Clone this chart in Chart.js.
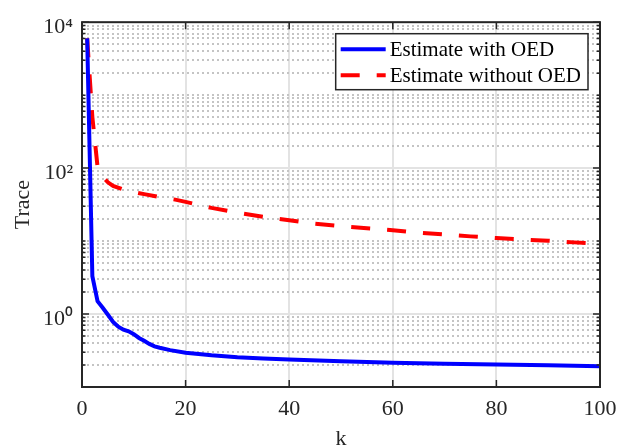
<!DOCTYPE html>
<html>
<head>
<meta charset="utf-8">
<script src="https://cdn.jsdelivr.net/npm/chart.js@4.4.0/dist/chart.umd.min.js"></script>
<style>
  html, body { margin: 0; padding: 0; background: #fff; }
  #wrap { width: 629px; height: 448px; }
</style>
</head>
<body>
<div id="wrap"><canvas id="traceChart" width="629" height="448"></canvas></div>
<script>
// values
const kWith = [1, 2, 3, 4, 5, 6, 7, 8, 9, 10, 11, 12, 13, 14, 15, 17, 20, 25, 30, 35, 40, 50, 60, 70, 80, 90, 100];
const traceWith = [6000, 3.3, 1.5, 1.22, 0.98, 0.78, 0.67, 0.61, 0.58, 0.53, 0.47, 0.43, 0.39, 0.36, 0.345, 0.32, 0.295, 0.272, 0.256, 0.246, 0.238, 0.225, 0.215, 0.208, 0.203, 0.198, 0.193];

const kWithout = [1, 2, 3, 4, 5, 6, 8, 10, 12, 15, 18, 20, 25, 30, 35, 40, 45, 50, 55, 60, 65, 70, 75, 80, 85, 90, 95, 100];
const traceWithout = [6000, 500, 105, 76, 64, 57, 51, 47, 44, 40, 37, 34.5, 28.5, 24.5, 21.5, 19.3, 17.3, 16.0, 15.0, 14.1, 13.0, 12.3, 11.6, 11.0, 10.5, 10.1, 9.6, 9.2];

const seriesLabels = ['Estimate with OED', 'Estimate without OED'];
const xTicks = [0, 20, 40, 60, 80, 100];
const yTickValues = [1, 100, 10000];
const yTickLabels = ['10\u2070', '10\u00B2', '10\u2074'];

const axisColor = '#262626';
const fontFamily = '"Liberation Serif", "Times New Roman", serif';

// log grid positions: 1..9 x each decade from 0.1 up to 1e4
const yGridValues = [];
for (let e = -1; e < 4; e++) {
  for (let m = 1; m < 10; m++) yGridValues.push(+(m * Math.pow(10, e)).toPrecision(3));
}
yGridValues.push(10000);
const isMajorY = v => yTickValues.includes(v);

// matlab style box with inward ticks on all four sides
const matlabAxes = {
  id: 'matlabAxes',
  afterDatasetsDraw(chart) {
    const {ctx, chartArea: a, scales: {x, y}} = chart;
    ctx.save();
    ctx.strokeStyle = axisColor;
    ctx.lineWidth = 1.5;
    ctx.beginPath();
    y.ticks.forEach(t => {
      const py = y.getPixelForValue(t.value);
      const len = isMajorY(t.value) ? 7 : 3.5;
      ctx.moveTo(a.left, py); ctx.lineTo(a.left + len, py);
      ctx.moveTo(a.right, py); ctx.lineTo(a.right - len, py);
    });
    x.ticks.forEach(t => {
      const px = x.getPixelForValue(t.value);
      ctx.moveTo(px, a.bottom); ctx.lineTo(px, a.bottom - 7);
      ctx.moveTo(px, a.top); ctx.lineTo(px, a.top + 7);
    });
    ctx.stroke();
    ctx.lineWidth = 2;
    ctx.strokeRect(a.left, a.top, a.right - a.left, a.bottom - a.top);
    ctx.restore();
  }
};

// legend box inside the top right corner of the axes
const boxLegend = {
  id: 'boxLegend',
  afterDraw(chart) {
    const {ctx, chartArea: a} = chart;
    const sets = chart.data.datasets;
    ctx.save();
    ctx.font = '21px ' + fontFamily;
    const textW = Math.max(...sets.map(d => ctx.measureText(d.label).width));
    const sample = 45, rowH = 26;
    const w = 5 + sample + 4 + textW + 7;
    const h = rowH * sets.length + 4;
    const left = a.right - 12 - w;
    const top = a.top + 11.5;
    ctx.fillStyle = '#fff';
    ctx.fillRect(left, top, w, h);
    ctx.strokeStyle = axisColor;
    ctx.lineWidth = 1.5;
    ctx.strokeRect(left, top, w, h);
    sets.forEach((d, i) => {
      const cy = top + 15.5 + i * rowH;
      ctx.beginPath();
      ctx.strokeStyle = d.borderColor;
      ctx.lineWidth = d.borderWidth;
      ctx.setLineDash(d.borderDash || []);
      ctx.moveTo(left + 5, cy);
      ctx.lineTo(left + 5 + sample, cy);
      ctx.stroke();
      ctx.setLineDash([]);
      ctx.fillStyle = '#000';
      ctx.textBaseline = 'middle';
      ctx.fillText(d.label, left + 5 + sample + 4, cy + 1);
    });
    ctx.restore();
  }
};

const tickFont = {family: fontFamily, size: 22};

new Chart(document.getElementById('traceChart'), {
  type: 'line',
  data: {
    datasets: [
      {
        label: seriesLabels[0],
        data: kWith.map((k, i) => ({x: k, y: traceWith[i]})),
        borderColor: '#0000ff',
        borderWidth: 4,
        pointRadius: 0,
        tension: 0,
        fill: false
      },
      {
        label: seriesLabels[1],
        data: kWithout.map((k, i) => ({x: k, y: traceWithout[i]})),
        borderColor: '#ff0000',
        borderWidth: 4,
        borderDash: [19, 17],
        pointRadius: 0,
        tension: 0,
        fill: false
      }
    ]
  },
  options: {
    responsive: false,
    animation: false,
    layout: {padding: {left: 0, top: 15, right: 29, bottom: 0}},
    plugins: {
      legend: {display: false},
      tooltip: {enabled: false}
    },
    scales: {
      x: {
        type: 'linear',
        min: 0,
        max: 100,
        afterBuildTicks: s => { s.ticks = xTicks.map(v => ({value: v})); },
        afterFit: s => { s.height = 61; },
        ticks: {font: tickFont, color: axisColor, padding: 9, maxRotation: 0, autoSkip: false},
        grid: {color: '#e3e3e3', lineWidth: 2, drawTicks: false},
        border: {display: false},
        title: {display: true, text: 'k', font: tickFont, color: axisColor, padding: {top: 0, bottom: -4}}
      },
      y: {
        type: 'logarithmic',
        min: 0.1,
        max: 10000,
        afterBuildTicks: s => { s.ticks = yGridValues.map(v => ({value: v})); },
        afterFit: s => { s.width = 82; },
        ticks: {
          font: tickFont,
          color: axisColor,
          padding: 9,
          labelOffset: 5,
          autoSkip: false,
          callback: v => {
            const i = yTickValues.indexOf(v);
            return i >= 0 ? yTickLabels[i] : '';
          }
        },
        grid: {
          color: c => (c.tick && isMajorY(c.tick.value)) ? '#e3e3e3' : '#c4c4c4',
          lineWidth: 2,
          drawTicks: false
        },
        border: {
          display: false,
          dash: c => (c.tick && isMajorY(c.tick.value)) ? [] : [2, 3]
        },
        title: {display: true, text: 'Trace', font: tickFont, color: axisColor, padding: {top: 10, bottom: 0}}
      }
    }
  },
  plugins: [matlabAxes, boxLegend]
});
</script>
</body>
</html>
